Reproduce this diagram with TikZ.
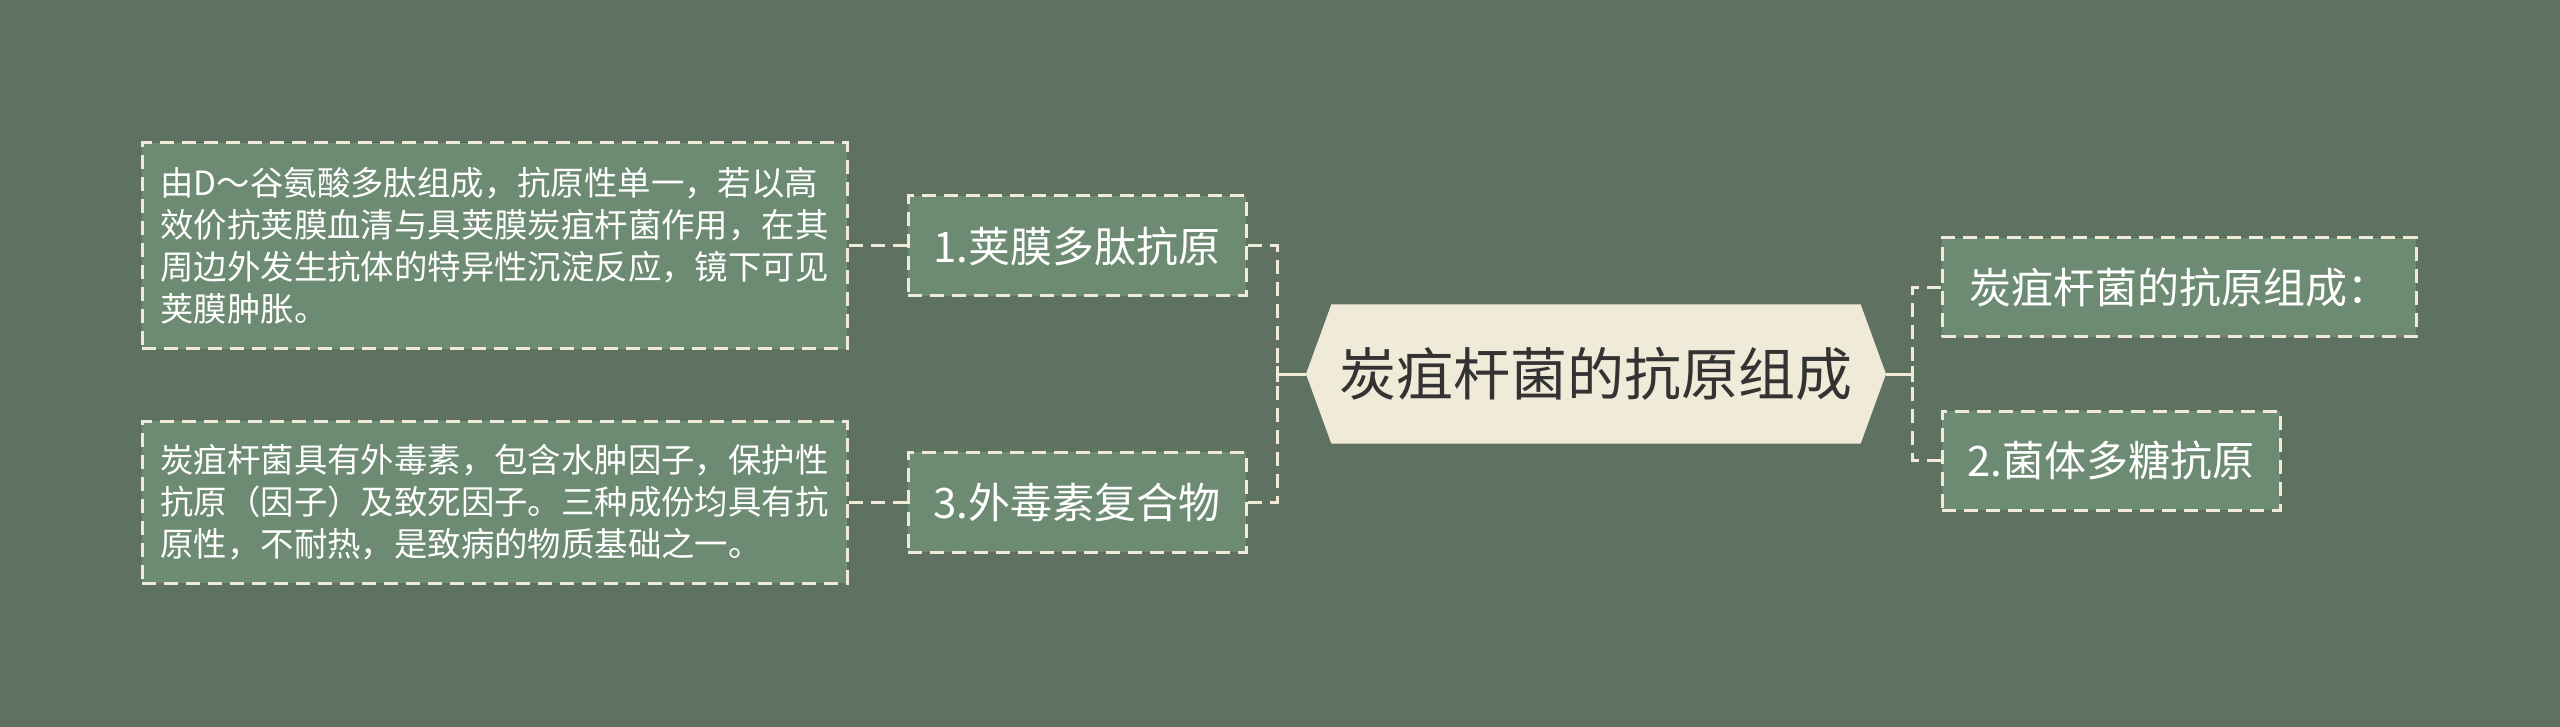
\documentclass[tikz,border=0pt]{standalone}
\usepackage{fontspec}
\usepackage{xcolor}
\usepackage{tikz}
\usetikzlibrary{shapes,positioning}
\newfontfamily\cjk{Noto Sans CJK SC}
\definecolor{bgc}{HTML}{5F7262}
\definecolor{boxc}{HTML}{6D8A73}
\definecolor{creamc}{HTML}{F0EAD8}
\definecolor{inkc}{HTML}{333333}
\tikzset{hex/.style={signal,signal to=west and east,signal pointer angle=140,fill=creamc,minimum width=290pt,minimum height=69.5pt,inner sep=0pt,text=inkc,font=\cjk\fontsize{28.5pt}{34pt}\selectfont}}
\tikzset{sub/.style={draw=creamc,fill=boxc,line width=1.5pt,dash pattern=on 7pt off 4pt,text=white,minimum height=50pt,inner sep=0pt,font=\cjk\fontsize{21pt}{25pt}\selectfont}}
\tikzset{leaf/.style={sub,align=left,font=\cjk\fontsize{16.7pt}{21pt}\selectfont}}
\tikzset{link/.style={draw=creamc,line width=1.5pt,dash pattern=on 7pt off 4pt}}
\tikzset{stub/.style={draw=creamc,line width=1.5pt}}

\begin{document}
\begin{tikzpicture}[x=0.5pt,y=-0.5pt]
    \fill[bgc] (0,0) rectangle (2560,727);
    \useasboundingbox (0,0) rectangle (2560,727);

    \node[hex] (root) at (1596,374) {炭疽杆菌的抗原组成};
    \node[sub,minimum width=169pt] (c1) at (1077,246) {1.荚膜多肽抗原};
    \node[sub,minimum width=169pt] (c3) at (1077,502) {3.外毒素复合物};
    \node[sub,minimum width=237pt,minimum height=49.5pt] (r1) at (2179,287.5) {炭疽杆菌的抗原组成：};
    \node[sub,minimum width=169pt,minimum height=49.5pt] (r2) at (2111,460.5) {2.菌体多糖抗原};
    \node[leaf,minimum width=352.5pt,minimum height=103pt] (d1) at (494.5,246) {由D～谷氨酸多肽组成，抗原性单一，若以高\\效价抗荚膜血清与具荚膜炭疽杆菌作用，在其\\周边外发生抗体的特异性沉淀反应，镜下可见\\荚膜肿胀。};
    \node[leaf,minimum width=352.5pt,minimum height=81pt] (d3) at (494.5,502) {炭疽杆菌具有外毒素，包含水肿因子，保护性\\抗原（因子）及致死因子。三种成份均具有抗\\原性，不耐热，是致病的物质基础之一。};

    \coordinate (lbus) at (1277,374);
    \coordinate (rbus) at (1912,374);

    \draw[stub] (root.west) -- (lbus);
    \draw[stub] ([yshift=4pt]lbus) -- ([yshift=-4pt]lbus);
    \draw[link] (c1.east) -| (lbus);
    \draw[link] (c3.east) -| (lbus);
    \draw[link] (d1.east) -- (c1.west);
    \draw[link] (d3.east) -- (c3.west);

    \draw[stub] (root.east) -- (rbus);
    \draw[stub] ([yshift=4pt]rbus) -- ([yshift=-4pt]rbus);
    \draw[link] (r1.west) -| (rbus);
    \draw[link] (r2.west) -| (rbus);
\end{tikzpicture}
\end{document}
